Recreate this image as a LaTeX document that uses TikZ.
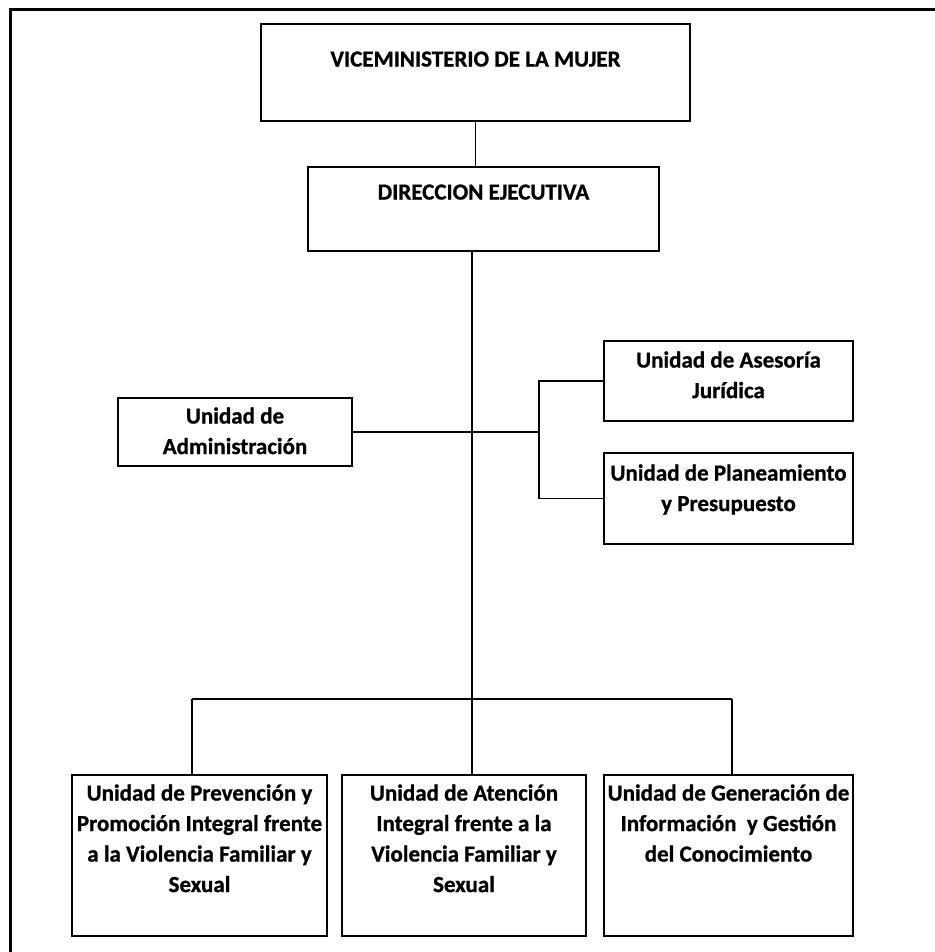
\documentclass[tikz,border=0pt]{standalone}
\usepackage{fontspec}
\newfontfamily\lab{Carlito}[BoldFeatures={FakeBold=0.9}]
\usetikzlibrary{positioning,calc}
\tikzset{
  box/.style={draw=black, line width=2pt, rectangle, inner sep=0pt, anchor=north west},
  lbl/.style={anchor=north, inner sep=0pt, align=center, font=\lab\bfseries\fontsize{23}{30.5}\selectfont},
  conn/.style={draw=black, line width=1.6pt},
}
\begin{document}
\begin{tikzpicture}[x=1pt,y=-1pt]
\useasboundingbox (0,0) rectangle (934,952);
% outer frame (top and left edges only)
\draw[line width=3pt, line cap=rect] (10,952) -- (10,10) -- (934,10);
% boxes
\node[box, minimum width=429pt, minimum height=97pt] (vice) at (260,23) {};
\node[box, minimum width=351pt, minimum height=84pt] (dir) at (307,166) {};
\node[box, minimum width=234pt, minimum height=68pt] (adm) at (117,397) {};
\node[box, minimum width=249pt, minimum height=80pt] (ase) at (603,340) {};
\node[box, minimum width=249pt, minimum height=91pt] (plan) at (603,452) {};
\node[box, minimum width=255pt, minimum height=161pt] (b1) at (71,774) {};
\node[box, minimum width=244pt, minimum height=161pt] (b2) at (341,774) {};
\node[box, minimum width=249pt, minimum height=161pt] (b3) at (603,774) {};
% labels
\node[lbl] (vice-t) at ($(vice.north)+(0,22)$) {\strut VICEMINISTERIO DE LA MUJER};
\node[lbl] (dir-t) at ($(dir.north)+(0,12)$) {\strut DIRECCION EJECUTIVA};
\node[lbl] (adm-t) at ($(adm.north)+(0,5)$) {\strut Unidad de\\Administración};
\node[lbl] (ase-t) at ($(ase.north)+(0,6)$) {\strut Unidad de Asesoría\\Jurídica};
\node[lbl] (plan-t) at ($(plan.north)+(0,7)$) {\strut Unidad de Planeamiento\\y Presupuesto};
\node[lbl] (b1-t) at ($(b1.north)+(0,5)$) {\strut Unidad de Prevención y\\Promoción Integral frente\\a la Violencia Familiar y\\Sexual};
\node[lbl] (b2-t) at ($(b2.north)+(0,5)$) {\strut Unidad de Atención\\Integral frente a la\\Violencia Familiar y\\Sexual};
\node[lbl] (b3-t) at ($(b3.north)+(0,5)$) {\strut Unidad de Generación de\\Información~ y Gestión\\del Conocimiento};
% connector coordinates
\coordinate (bus) at (472,699);
\coordinate (l1) at (192,699);
\coordinate (l3) at (732,699);
\coordinate (brc) at (539,434);
% connectors
\draw[conn] (vice.south) -- (vice.south |- dir.north);
\draw[conn] (bus |- dir.south) -- (bus);
\draw[conn] (l1) -- (l3);
\draw[conn] (l1) -- (l1 |- b1.north);
\draw[conn] (bus) -- (bus |- b2.north);
\draw[conn] (l3) -- (l3 |- b3.north);
\draw[conn] (adm.east) -- (adm.east -| brc);
\draw[conn] (ase.west) -| (brc) |- (plan.west);
\end{tikzpicture}
\end{document}
